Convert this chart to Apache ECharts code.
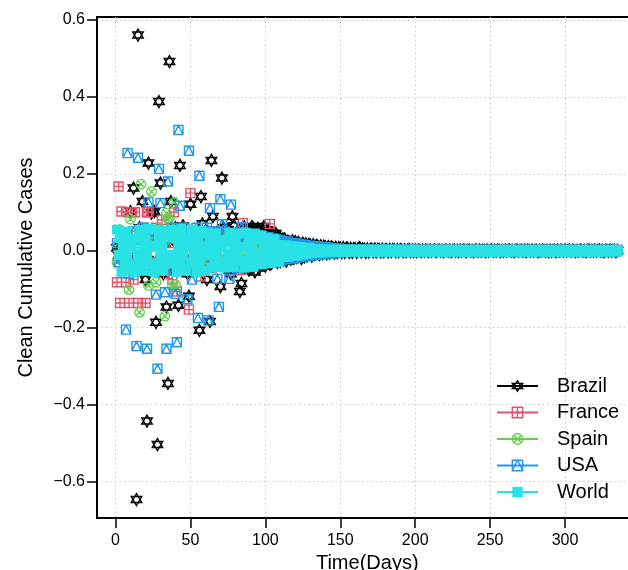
<!DOCTYPE html>
<html>
<head>
<meta charset="utf-8">
<script src="https://cdn.jsdelivr.net/npm/echarts@6/dist/echarts.min.js"></script>
<style>
  html, body { margin: 0; padding: 0; background: #fff; }
  #chart { width: 628px; height: 570px; }
</style>
</head>
<body>
<div id="chart"></div>
<script>
// day 1 .. 335, one value per day
const brazil = [
  0.008, -0.012, 0.004, 0.015, -0.02, 0.01, -0.03, 0.02, -0.015, 0.102,
  -0.04, 0.163, 0.03, -0.647, 0.561, 0.06, -0.05, 0.128, -0.02, -0.075,
  -0.443, 0.228, 0.045, 0.098, -0.03, 0.102, -0.186, -0.504, 0.388, 0.176,
  0.04, -0.06, 0.02, -0.146, -0.345, 0.492, 0.128, 0.03, -0.05, 0.06,
  -0.03, -0.142, 0.222, 0.04, 0.065, -0.02, 0.03, -0.06, -0.118, 0.121,
  0.05, -0.04, 0.035, 0.02, -0.05, -0.207, 0.141, 0.07, -0.03, -0.045,
  -0.075, 0.04, -0.184, 0.235, 0.089, 0.03, -0.04, 0.05, -0.02, -0.093,
  0.189, 0.06, -0.035, 0.045, 0.055, -0.05, -0.06, 0.089, 0.065, 0.03,
  -0.04, 0.05, -0.106, -0.085, 0.06, 0.062, -0.03, 0.055, -0.05, -0.041,
  0.063, 0.059, -0.055, 0.05, 0.058, -0.045, -0.033, 0.057, 0.063, -0.04,
  0.055, 0.05, -0.035, -0.033, 0.045, 0.04, 0.045, -0.03, 0.038, -0.028,
  0.028, -0.025, 0.03, -0.027, 0.025, 0.02, -0.022, 0.026, -0.02, 0.024,
  -0.018, 0.022, 0.015, -0.02, 0.02, -0.016, 0.018, -0.012, 0.017, 0.015,
  -0.014, 0.016, -0.01, 0.014, 0.012, -0.01, 0.013, -0.008, 0.012, 0.01,
  -0.008, 0.011, -0.006, 0.01, 0.008, -0.006, 0.009, -0.005, 0.008, 0.007,
  -0.005, 0.008, -0.004, 0.007, 0.006, -0.004, 0.006, -0.004, 0.006, 0.005,
  -0.004, 0.006, 0.008, -0.003, 0.005, 0.004, -0.004, 0.005, -0.003, 0.004,
  0.004, -0.003, 0.005, -0.003, 0.004, 0.003, -0.003, 0.004, -0.002, 0.003,
  0.003, -0.003, 0.004, -0.002, 0.003, 0.003, -0.002, 0.003, -0.002, 0.003,
  0.002, -0.002, 0.003, -0.002, 0.002, 0.003, -0.002, 0.002, -0.002, 0.002,
  -0.002, 0.002, 0.001, -0.002, 0.002, -0.001, 0.002, 0.001, -0.002, 0.002, -0.001, 0.001, 0.002, -0.002, 0.001,
  0.002, -0.001, 0.001, -0.002, 0.002, 0.001, -0.001, 0.002, -0.002, 0.001, 0.002, -0.001, 0.001, -0.002, 0.002,
  -0.001, 0.002, 0.001, -0.002, 0.001, 0.002, -0.001, 0.001, -0.002, 0.002, 0.001, -0.001, 0.002, -0.001, 0.001,
  0.001, -0.002, 0.002, -0.001, 0.001, 0.002, -0.001, 0.001, -0.001, 0.002, 0.001, -0.002, 0.001, -0.001, 0.002,
  -0.001, 0.001, 0.002, -0.001, 0.001, -0.002, 0.001, 0.002, -0.001, 0.001, 0.001, -0.001, 0.002, -0.002, 0.001,
  0.001, -0.001, 0.002, -0.001, 0.001, 0.001, -0.002, 0.001, -0.001, 0.002, 0.001, -0.001, 0.001, -0.002, 0.002,
  -0.001, 0.001, 0.001, -0.002, 0.002, -0.001, 0.001, 0.001, -0.001, 0.002, -0.001, 0.001, 0.002, -0.001, 0.001,
  0.001, -0.002, 0.001, -0.001, 0.002, 0.001, -0.001, 0.001, -0.002, 0.001, 0.002, -0.001, 0.001, -0.001, 0.002,
  -0.001, 0.001, 0.002, -0.001, 0.001, -0.002, 0.001, 0.001, -0.001, 0.002, -0.001, 0.001, 0.001, -0.002, 0.001
]

const france = [
  -0.082, 0.167, -0.136, 0.102, 0.02, -0.01, -0.082, 0.1, -0.136, 0.03,
  0.1, -0.075, 0.1, 0.04, -0.136, 0.05, -0.02, 0.03, 0.06, -0.136,
  0.1, 0.1, -0.04, 0.05, -0.03, 0.02, 0.06, -0.05, 0.03, -0.02,
  0.08, 0.04, -0.03, 0.05, -0.06, 0.02, 0.04, -0.075, 0.1, -0.03,
  -0.106, 0.05, 0.03, -0.04, 0.06, -0.02, 0.035, -0.05, -0.153, 0.15,
  0.03, -0.04, 0.04, -0.03, 0.05, -0.02, -0.067, 0.045, 0.02, -0.035,
  0.04, -0.03, 0.05, -0.045, 0.03, 0.02, -0.04, 0.05, -0.025, 0.035,
  -0.04, 0.045, 0.03, -0.035, 0.04, -0.03, 0.045, -0.02, 0.03, -0.04,
  0.04, -0.05, 0.035, -0.05, 0.072, -0.03, 0.03, -0.025, 0.035, -0.03,
  0.03, -0.035, 0.028, -0.02, 0.03, -0.03, 0.025, -0.025, 0.03, -0.02,
  0.025, -0.028, 0.07, -0.02, 0.022, -0.025, 0.02, -0.018, 0.022, -0.02,
  0.018, -0.015, 0.02, -0.015, 0.015, -0.012, 0.016, -0.012, 0.014, -0.01,
  0.012, -0.01, 0.012, -0.008, 0.01, -0.008, 0.01, -0.007, 0.008, -0.006,
  0.008, -0.006, 0.007, -0.005, 0.006, -0.005, 0.006, -0.004, 0.005, -0.004,
  0.005, -0.004, 0.004, -0.003, 0.004, -0.003, 0.004, -0.003, 0.003, -0.003,
  0.002, -0.002, 0.001, 0.002, -0.001, 0.002, -0.002, 0.001, 0.001, -0.002, 0.002, -0.001, 0.001, 0.002, -0.002,
  0.001, -0.001, 0.002, -0.002, 0.001, 0.001, -0.002, 0.002, -0.001, 0.001, 0.002, -0.001, 0.001, -0.002, 0.002,
  -0.001, 0.001, 0.002, -0.001, 0.001, -0.002, 0.002, 0.001, -0.001, 0.001, -0.002, 0.001, 0.002, -0.001, 0.001,
  0.001, -0.002, 0.001, 0.001, -0.001, 0.002, -0.001, 0.001, 0.001, -0.002, 0.001, -0.001, 0.002, -0.001, 0.001,
  -0.002, 0.001, 0.001, -0.001, 0.002, -0.001, 0.001, -0.002, 0.002, 0.001, -0.001, 0.001, 0.001, -0.002, 0.002,
  0.001, -0.001, 0.002, -0.002, 0.001, -0.001, 0.001, 0.002, -0.001, 0.001, -0.002, 0.001, 0.001, -0.001, 0.002,
  -0.001, 0.002, -0.001, 0.001, 0.001, -0.002, 0.001, -0.001, 0.002, 0.001, -0.001, 0.001, -0.002, 0.001, 0.001,
  0.002, -0.001, 0.001, -0.001, 0.002, -0.002, 0.001, 0.001, -0.001, 0.002, -0.001, 0.001, 0.001, -0.002, 0.001,
  -0.001, 0.001, 0.002, -0.001, 0.001, 0.001, -0.002, 0.001, -0.001, 0.001, 0.002, -0.001, 0.001, -0.001, 0.002,
  0.001, -0.002, 0.001, 0.001, -0.001, 0.002, -0.001, 0.001, -0.001, 0.001, 0.001, -0.002, 0.002, -0.001, 0.001,
  -0.001, 0.001, 0.001, -0.002, 0.001, 0.002, -0.001, 0.001, -0.001, 0.002, -0.001, 0.001, 0.001, -0.001, 0.001,
  0.001, -0.001, 0.002, -0.001, 0.001, -0.002, 0.001, 0.001, -0.001, 0.001, 0.002, -0.001, 0.001, -0.002, 0.001,
  0.001, -0.001, 0.001, -0.001, 0.002
]

const spain = [
  -0.03, 0.02, 0.055, -0.02, 0.03, 0.01, -0.04, 0.04, -0.101, 0.082,
  0.03, -0.05, 0.04, 0.02, -0.03, -0.16, 0.173, 0.05, -0.04, 0.03,
  0.04, -0.09, 0.02, 0.154, -0.03, 0.05, -0.082, 0.03, 0.06, -0.04,
  0.05, 0.02, -0.17, 0.098, 0.082, 0.085, 0.06, -0.093, 0.125, -0.088,
  0.04, -0.03, 0.05, 0.02, -0.04, 0.035, -0.05, 0.03, 0.045, -0.035,
  0.03, -0.04, 0.04, 0.025, -0.03, 0.04, -0.045, 0.035, 0.03, -0.03,
  0.035, -0.03, 0.04, 0.02, -0.035, 0.03, -0.025, 0.035, 0.02, -0.03,
  0.03, -0.025, 0.03, 0.015, -0.03, 0.025, -0.02, 0.03, 0.02, -0.025,
  0.025, -0.02, 0.025, 0.015, -0.02, 0.02, -0.018, 0.02, 0.015, -0.02,
  0.02, -0.015, 0.018, 0.01, -0.015, 0.015, -0.012, 0.015, 0.01, -0.012,
  0.012, -0.01, 0.012, 0.008, -0.01, 0.01, -0.008, 0.01, 0.006, -0.008,
  0.008, -0.007, 0.007, 0.005, -0.006, 0.006, -0.005, 0.006, 0.004, -0.005,
  0.005, -0.005, 0.005, 0.004, -0.004, 0.004, -0.004, 0.004, 0.003, -0.004,
  0.004, -0.003, 0.003, 0.003, -0.003, 0.003, -0.003, 0.003, 0.002, -0.003,
  0.003, -0.002, 0.002, 0.002, -0.002, 0.002, -0.002, 0.002, 0.002, -0.002,
  -0.001, 0.002, -0.002, 0.001, 0.001, -0.002, 0.002, -0.001, 0.001, 0.001, -0.002, 0.001, 0.002, -0.001, 0.001,
  0.001, -0.001, 0.001, -0.002, 0.002, 0.001, -0.001, 0.001, -0.001, 0.002, -0.002, 0.001, 0.001, -0.001, 0.002,
  -0.002, 0.001, 0.001, -0.001, 0.001, 0.002, -0.001, 0.001, -0.002, 0.001, 0.001, -0.001, 0.002, -0.001, 0.001,
  0.001, -0.001, 0.002, -0.001, 0.001, -0.001, 0.001, 0.002, -0.002, 0.001, -0.001, 0.001, 0.001, -0.002, 0.001,
  -0.001, 0.002, 0.001, -0.001, 0.001, -0.002, 0.001, 0.001, -0.001, 0.002, 0.001, -0.001, 0.001, -0.001, 0.002,
  0.001, -0.002, 0.001, 0.001, -0.001, 0.001, -0.001, 0.002, 0.001, -0.001, 0.001, -0.002, 0.001, 0.001, -0.001,
  0.002, -0.001, 0.001, -0.001, 0.001, 0.001, -0.002, 0.001, -0.001, 0.002, 0.001, -0.001, 0.001, 0.001, -0.002,
  -0.001, 0.001, 0.002, -0.001, 0.001, -0.001, 0.001, 0.001, -0.002, 0.001, 0.002, -0.001, 0.001, -0.001, 0.001,
  0.001, -0.001, 0.001, -0.002, 0.001, 0.001, -0.001, 0.002, -0.001, 0.001, -0.001, 0.001, 0.002, -0.001, 0.001,
  -0.002, 0.001, 0.001, -0.001, 0.002, -0.001, 0.001, 0.001, -0.001, 0.001, -0.002, 0.002, 0.001, -0.001, 0.001,
  0.001, -0.001, 0.002, -0.001, 0.001, -0.001, 0.001, 0.001, -0.002, 0.001, 0.001, -0.001, 0.002, -0.001, 0.001,
  -0.001, 0.001, 0.001, -0.002, 0.001, 0.002, -0.001, 0.001, -0.001, 0.001, 0.001, -0.001, 0.001, -0.002, 0.001,
  0.001, -0.001, 0.002, -0.001, 0.001
]

const usa = [
  0.02, -0.03, 0.04, -0.02, 0.03, -0.04, -0.205, 0.254, -0.06, 0.03,
  -0.04, 0.05, 0.02, -0.248, 0.242, -0.03, 0.04, 0.06, -0.05, 0.03,
  -0.255, 0.126, 0.04, -0.03, 0.05, -0.04, -0.114, -0.307, 0.213, 0.124,
  0.05, -0.04, -0.108, -0.255, 0.18, 0.04, -0.03, 0.06, -0.05, -0.112,
  -0.238, 0.314, 0.117, 0.05, -0.04, 0.06, -0.03, -0.126, 0.26, 0.04,
  -0.075, 0.05, -0.04, 0.06, -0.175, 0.195, 0.04, -0.05, 0.05, -0.03,
  0.06, -0.181, 0.111, 0.05, -0.04, -0.03, 0.045, -0.073, -0.146, 0.134,
  0.069, -0.04, 0.05, -0.035, 0.04, -0.073, 0.12, -0.04, 0.045, 0.03,
  -0.045, 0.04, -0.035, 0.061, -0.04, 0.045, 0.03, -0.04, 0.04, -0.035,
  0.04, -0.04, 0.035, -0.03, 0.04, 0.03, -0.035, 0.038, -0.03, 0.035,
  -0.032, 0.035, 0.03, -0.03, 0.032, -0.028, 0.03, 0.025, -0.028, 0.028,
  -0.025, 0.025, 0.022, -0.022, 0.024, -0.02, 0.02, 0.018, -0.02, 0.02,
  -0.018, 0.018, 0.015, -0.016, 0.016, -0.014, 0.015, 0.012, -0.014, 0.013,
  -0.012, 0.012, 0.01, -0.011, 0.011, -0.01, 0.01, 0.008, -0.009, 0.009,
  -0.008, 0.008, 0.007, -0.007, 0.007, -0.006, 0.006, 0.005, -0.005, 0.005,
  0.003, -0.002, 0.002, -0.003, 0.002, 0.001, -0.002, 0.003, -0.002, 0.002, -0.001, 0.002, -0.003, 0.002, 0.001,
  -0.002, 0.003, -0.001, 0.002, -0.002, 0.001, 0.002, -0.003, 0.002, -0.001, 0.002, 0.001, -0.002, 0.003, -0.002,
  0.002, -0.001, 0.002, -0.002, 0.003, -0.002, 0.001, 0.002, -0.002, 0.002, -0.001, 0.003, -0.002, 0.001, 0.002,
  -0.002, 0.002, 0.001, -0.003, 0.002, -0.001, 0.002, -0.002, 0.001, 0.002, -0.002, 0.001, 0.002, -0.002, 0.002,
  0.001, -0.002, 0.002, -0.001, 0.002, -0.002, 0.001, 0.002, -0.002, 0.001, 0.002, -0.001, 0.002, -0.002, 0.001,
  -0.001, 0.002, -0.002, 0.001, 0.002, -0.001, 0.001, -0.002, 0.002, 0.001, -0.001, 0.002, -0.002, 0.001, 0.001,
  0.002, -0.001, 0.001, -0.002, 0.001, 0.002, -0.001, 0.001, -0.002, 0.002, -0.001, 0.001, 0.002, -0.002, 0.001,
  -0.002, 0.001, 0.002, -0.001, 0.001, -0.001, 0.002, -0.002, 0.001, 0.001, -0.002, 0.002, -0.001, 0.001, 0.002,
  0.001, -0.002, 0.001, 0.002, -0.001, 0.001, -0.002, 0.001, 0.002, -0.001, 0.001, -0.001, 0.002, 0.001, -0.002,
  -0.001, 0.002, -0.001, 0.001, 0.002, -0.002, 0.001, -0.001, 0.002, 0.001, -0.002, 0.001, 0.001, -0.001, 0.002,
  0.002, -0.002, 0.001, -0.001, 0.001, 0.002, -0.001, 0.001, -0.002, 0.001, 0.002, -0.001, 0.001, -0.001, 0.002,
  -0.001, 0.001, 0.002, -0.002, 0.001, -0.001, 0.002, 0.001, -0.001, 0.001, -0.002, 0.002, 0.001, -0.001, 0.001,
  0.002, -0.001, 0.001, -0.002, 0.002
]

const world = [
  0.055, -0.011, 0.033, -0.055, 0.011, -0.033,
  0.05, -0.015, 0.03, -0.05, 0.008, -0.035,
  -0.055, 0.033, -0.011, 0.055, -0.033, 0.011,
  -0.052, 0.03, -0.013, 0.057, -0.035, 0.01,
  0.011, -0.055, 0.055, -0.033, 0.033, -0.011,
  0.013, -0.052, 0.052, -0.03, 0.035, -0.01,
  -0.033, 0.055, -0.011, 0.033, -0.055, 0.011,
  -0.03, 0.057, -0.013, 0.03, -0.052, 0.012,
  0.033, -0.033, 0.055, -0.011, 0.011, -0.055,
  0.035, -0.03, 0.052, -0.013, 0.01, -0.052,
  0.047, -0.01, 0.028, -0.044, 0.009, -0.028,
  0.045, -0.012, 0.026, -0.042, 0.01, -0.03,
  -0.044, 0.028, -0.01, 0.047, -0.028, 0.009,
  -0.042, 0.03, -0.012, 0.045, -0.026, 0.008,
  0.009, -0.044, 0.047, -0.028, 0.028, -0.01,
  0.01, -0.042, 0.045, -0.026, 0.03, -0.008,
  0.04, -0.035, 0.015, -0.012,
  0.033, -0.016, 0.016, -0.032, 0.0, 0.03, -0.015, 0.014, -0.03, 0.002,
  0.015, -0.002, -0.016, 0.014, 0.0, -0.015, 0.012, -0.003, -0.013, 0.011,
  0.0, -0.012, 0.01, -0.002, -0.01, 0.008, 0.0, -0.008, 0.007, -0.001,
  -0.006, 0.005, 0.0, -0.005, 0.004, -0.001, -0.004, 0.004, 0.0, -0.003,
  0.003, -0.001, -0.003, 0.003, 0.0, -0.002, 0.003, -0.001, -0.002, 0.002,
  0.002, -0.003, 0.003, -0.002, 0.001, 0.003, -0.003, 0.002, -0.001, 0.003, -0.002, 0.002, -0.003, 0.001, 0.003,
  -0.002, 0.002, -0.003, 0.003, -0.001, 0.002, -0.002, 0.003, -0.003, 0.001, 0.002, -0.002, 0.003, -0.002, 0.001,
  0.003, -0.002, 0.001, -0.003, 0.002, -0.001, 0.003, -0.002, 0.002, -0.003, 0.001, 0.002, -0.002, 0.003, -0.001,
  -0.003, 0.002, 0.002, -0.002, 0.003, -0.001, 0.001, -0.003, 0.002, 0.002, -0.002, 0.003, -0.001, 0.001, -0.002,
  0.002, -0.003, 0.001, 0.003, -0.002, 0.002, -0.001, 0.002, -0.003, 0.003, -0.002, 0.001, 0.002, -0.002, 0.003,
  -0.001, 0.002, -0.003, 0.002, 0.001, -0.002, 0.003, -0.002, 0.001, -0.003, 0.002, 0.002, -0.001, 0.003, -0.002,
  0.001, -0.002, 0.003, -0.001, 0.002, -0.003, 0.002, 0.001, -0.002, 0.003, -0.002, 0.001, -0.003, 0.002, 0.002,
  -0.002, 0.003, -0.001, 0.002, -0.002, 0.001, 0.003, -0.003, 0.002, -0.001, 0.002, -0.002, 0.003, -0.001, 0.001,
  0.002, -0.003, 0.002, -0.001, 0.003, -0.002, 0.001, 0.002, -0.003, 0.002, -0.001, 0.003, -0.002, 0.002, -0.001,
  -0.002, 0.001, 0.003, -0.002, 0.002, -0.003, 0.001, 0.002, -0.002, 0.003, -0.001, 0.002, -0.003, 0.002, 0.001,
  0.003, -0.002, 0.002, -0.001, 0.002, -0.003, 0.003, -0.001, 0.002, -0.002, 0.001, 0.003, -0.002, 0.002, -0.003,
  -0.001, 0.002, -0.002, 0.003, -0.001, 0.002, -0.003, 0.002, 0.001, -0.002, 0.003, -0.002, 0.001, 0.002, -0.002,
  0.002, -0.001, 0.003, -0.002, 0.002
]

const countries = ['Brazil', 'France', 'Spain', 'USA', 'World']
const seriesValues = [brazil, france, spain, usa, world]
const xTicks = [0, 50, 100, 150, 200, 250, 300]
const yTicks = [-0.6, -0.4, -0.2, 0, 0.2, 0.4, 0.6]

const FONT = '"Liberation Sans", Arial, Helvetica, sans-serif'
const colors = ['#000000', '#DF536B', '#61D04F', '#2297E6', '#28E2E5']
// R pch 11..15
const symbols = [
  'path://M5 0L9.33 7.5L0.67 7.5ZM5 10L9.33 2.5L0.67 2.5Z',
  'path://M0 0H10V10H0ZM5 0V10M0 5H10',
  'path://M0 5A5 5 0 1 1 10 5A5 5 0 1 1 0 5ZM1.5 1.5L8.5 8.5M8.5 1.5L1.5 8.5',
  'path://M0 0H10V10H0ZM0 10L5 0L10 10',
  'rect'
]
const sizes = [[10.5, 12], [9, 9], [9.5, 9.5], [9, 9], [10, 10]]
const filled = [false, false, false, false, true]

const itemStyleOf = k => ({
  color: filled[k] ? colors[k] : 'rgba(0,0,0,0)',
  borderColor: colors[k],
  borderWidth: filled[k] ? 0 : 1.4
})

const chart = echarts.init(document.getElementById('chart'), null, { renderer: 'canvas' })

chart.setOption({
  animation: false,
  backgroundColor: '#fff',
  textStyle: { fontFamily: FONT },
  grid: {
    left: 97, right: -9.5, top: 17, bottom: 52,
    show: true, borderColor: '#000', borderWidth: 2,
    containLabel: false, outerBoundsMode: 'none'
  },
  legend: {
    orient: 'vertical',
    left: 496, top: 376,
    padding: 0,
    itemWidth: 41, itemHeight: 13, itemGap: 6.5,
    selectedMode: false,
    textStyle: { fontSize: 20, color: '#000', fontFamily: FONT, lineHeight: 20, padding: [0, 0, 0, 14] },
    data: countries.map((name, k) => ({
      name,
      itemStyle: itemStyleOf(k),
      lineStyle: { color: colors[k], width: 2, opacity: 1 }
    }))
  },
  xAxis: {
    type: 'value',
    min: -12.36, max: 348.36,
    axisLine: { show: true, onZero: false, lineStyle: { color: '#000', width: 2 } },
    axisTick: { show: true, length: 10, customValues: xTicks, lineStyle: { color: '#000', width: 1.5 } },
    axisLabel: { customValues: xTicks, fontSize: 16, color: '#000', margin: 15, fontFamily: FONT },
    splitLine: { show: true, lineStyle: { color: '#c8c8c8', type: [1.5, 3], width: 1 } },
    name: 'Time(Days)', nameLocation: 'middle', nameGap: 23,
    nameTextStyle: { fontSize: 20, color: '#000', fontFamily: FONT }
  },
  yAxis: {
    type: 'value',
    min: -0.695, max: 0.608,
    axisLine: { show: true, onZero: false, lineStyle: { color: '#000', width: 2 } },
    axisTick: { show: true, length: 10, customValues: yTicks, lineStyle: { color: '#000', width: 1.5 } },
    axisLabel: {
      customValues: yTicks, fontSize: 16, color: '#000', margin: 12, fontFamily: FONT,
      formatter: v => v.toFixed(1).replace('-', '\u2212')
    },
    splitLine: { show: true, lineStyle: { color: '#c8c8c8', type: [1.5, 3], width: 1 } },
    name: 'Clean Cumulative Cases', nameLocation: 'middle', nameGap: 61,
    nameTextStyle: { fontSize: 20, color: '#000', fontFamily: FONT }
  },
  series: countries.map((name, k) => ({
    name,
    type: 'line',
    data: seriesValues[k].map((v, i) => [i + 1, v]),
    symbol: symbols[k],
    symbolSize: sizes[k],
    showSymbol: true,
    lineStyle: { color: colors[k], opacity: 0 },
    itemStyle: itemStyleOf(k),
    emphasis: { disabled: true },
    silent: true
  }))
})
</script>
</body>
</html>
